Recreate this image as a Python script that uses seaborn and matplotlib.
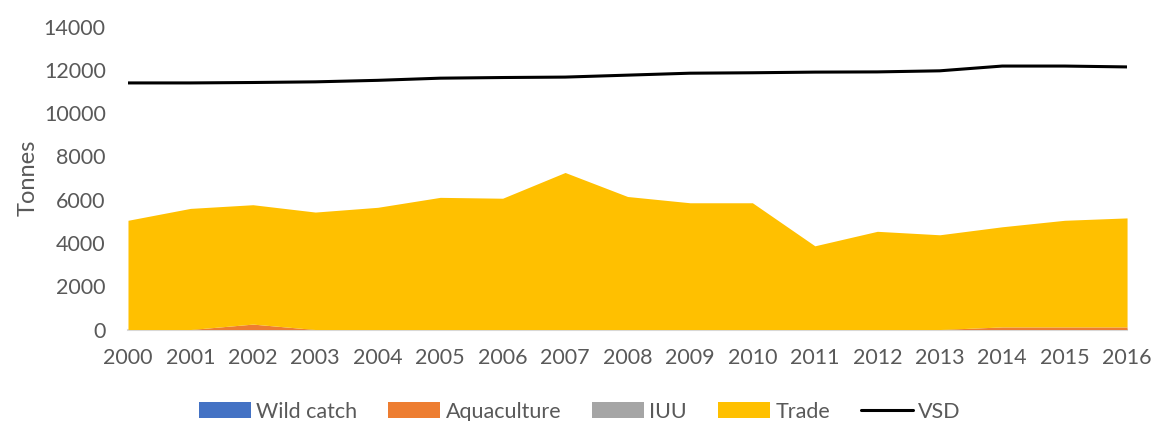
import numpy as np
import pandas as pd
import matplotlib
matplotlib.use("Agg")
import matplotlib.pyplot as plt
from matplotlib.patches import Patch
from matplotlib.lines import Line2D
import seaborn as sns

years = list(range(2000, 2017))
wild_catch = [0] * 17
aquaculture = [0, 0, 250, 0, 0, 0, 0, 0, 0, 0, 0, 0, 0, 0, 120, 120, 120]
iuu = [0] * 17
trade = [5050, 5600, 5520, 5430, 5650, 6110, 6070, 7260, 6150, 5860, 5860,
         3870, 4540, 4380, 4630, 4930, 5040]
vsd = [11400, 11400, 11420, 11450, 11520, 11620, 11650, 11670, 11760, 11850,
       11870, 11900, 11910, 11960, 12180, 12180, 12140]

series_names = ["Wild catch", "Aquaculture", "IUU", "Trade"]
colors = ["#4472C4", "#ED7D31", "#A5A5A5", "#FFC000"]

df = pd.DataFrame({"Year": years, "VSD": vsd})

sns.set_theme(style="white")
plt.rcParams["font.family"] = ["Lato", "DejaVu Sans"]
text_color = "#595959"
fs = 15.5

fig = plt.figure(figsize=(11.53, 4.21), dpi=100)
ax = fig.add_axes([0.111, 0.2173, 0.8665, 0.7193])

ax.stackplot(years, wild_catch, aquaculture, iuu, trade, colors=colors,
             linewidth=0, zorder=2)
sns.lineplot(data=df, x="Year", y="VSD", ax=ax, color="black", linewidth=2.2,
             zorder=3, legend=False)

ax.set_xlim(2000, 2016)
ax.set_ylim(0, 14000)
ax.set_yticks(np.arange(0, 14001, 2000))
ax.set_xticks(years)
ax.set_xticklabels([str(y) for y in years])
ax.tick_params(axis="both", length=0, labelsize=fs, colors=text_color)
ax.tick_params(axis="x", pad=13)
ax.tick_params(axis="y", pad=16)
ax.set_xlabel("")
ax.set_ylabel("Tonnes", fontsize=17, color=text_color, labelpad=4)

for side in ["top", "right", "left"]:
    ax.spines[side].set_visible(False)
ax.spines["bottom"].set_color("#D9D9D9")
ax.spines["bottom"].set_linewidth(1.5)
ax.spines["bottom"].set_zorder(1)

handles = [Patch(facecolor=c, edgecolor="none") for c in colors]
handles.append(Line2D([0], [0], color="black", linewidth=2.2))
labels = series_names + ["VSD"]
fig.legend(handles, labels, loc="center", bbox_to_anchor=(0.503, 0.022),
           ncol=5, frameon=False, fontsize=fs, labelcolor=text_color,
           handlelength=2.4, handleheight=0.75, handletextpad=0.25,
           columnspacing=1.45)

fig.savefig("out.png", dpi=100)
